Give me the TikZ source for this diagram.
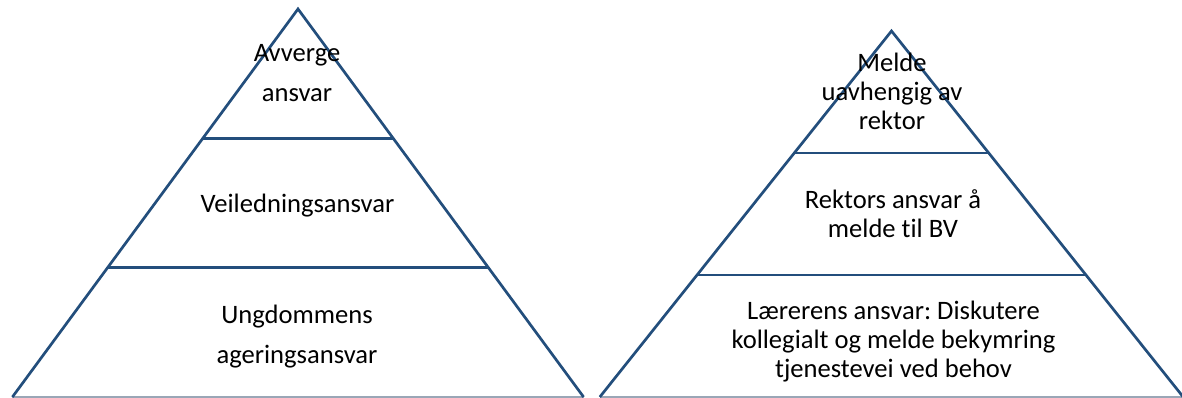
\documentclass[tikz,border=0pt]{standalone}
\usepackage{fontspec}
\setmainfont[Ligatures=NoCommon]{Carlito}
\usetikzlibrary{calc}
\usepackage{xcolor}
\definecolor{pyr}{HTML}{234E7C}
\definecolor{baseline}{HTML}{9AA6B6}
\tikzset{
  edge/.style={draw=pyr,line width=2.7pt},
  baseedge/.style={draw=baseline,line width=1.8pt},
  tierwide/.style={align=center,inner sep=0pt,text=black,font=\fontsize{26.6}{40}\selectfont\frenchspacing},
  tiertight/.style={align=center,inner sep=0pt,text=black,font=\fontsize{26.6}{29}\selectfont\frenchspacing},
}

\begin{document}
\begin{tikzpicture}[x=1pt,y=-1pt]
\useasboundingbox (0,0) rectangle (1182,398);
% left pyramid
\coordinate (ltop) at (298,9);
\coordinate (lleft) at (12.4,397);
\coordinate (lright) at (583.6,397);
\draw[baseedge] (lleft) -- (lright);
\draw[edge] (lleft) -- (ltop) -- (lright);
\draw[edge] ($(ltop)!1/3!(lleft)$) -- ($(ltop)!1/3!(lright)$);
\draw[edge] ($(ltop)!2/3!(lleft)$) -- ($(ltop)!2/3!(lright)$);
\node[tierwide] (avverge) at (297,73) {Avverge\\ansvar};
\node[tierwide] (veiledning) at (297.5,206) {Veiledningsansvar};
\node[tierwide] (ungdom) at (297,336.5) {Ungdommens\\ageringsansvar};
% right pyramid
\coordinate (rtop) at (891.5,31);
\coordinate (rleft) at (599.8,397);
\coordinate (rright) at (1183.2,397);
\draw[baseedge] (rleft) -- (rright);
\draw[edge] (rleft) -- (rtop) -- (rright);
\draw[edge] ($(rtop)!1/3!(rleft)$) -- ($(rtop)!1/3!(rright)$);
\draw[edge] ($(rtop)!2/3!(rleft)$) -- ($(rtop)!2/3!(rright)$);
\node[tiertight] (melde) at (892,91.5) {Melde\\uavhengig av\\rektor};
\node[tiertight] (rektor) at (893,214) {Rektors ansvar å\\melde til BV};
\node[tiertight] (laerer) at (893.5,341.5) {Lærerens ansvar: Diskutere\\kollegialt og melde bekymring\\tjenestevei ved behov};
\end{tikzpicture}
\end{document}
